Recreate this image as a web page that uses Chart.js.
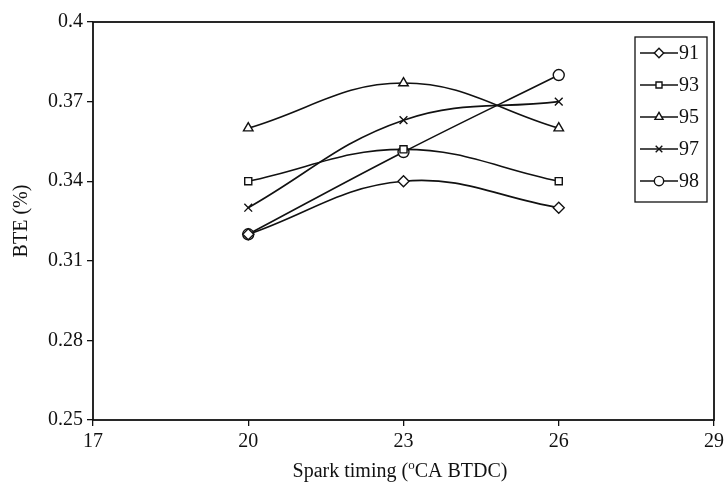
<!DOCTYPE html>
<html>
<head>
<meta charset="utf-8">
<script src="https://cdn.jsdelivr.net/npm/chart.js@4/dist/chart.umd.min.js"></script>
<style>
  html, body { margin:0; padding:0; background:#fff; }
  #wrap { width:724px; height:488px; }
</style>
</head>
<body>
<div id="wrap"><canvas id="bteChart" width="724" height="488"></canvas></div>
<script>
const timing = [20, 23, 26];
const fuels = ['91', '93', '95', '97', '98'];
const bte91 = [0.32, 0.34, 0.33];
const bte93 = [0.34, 0.352, 0.34];
const bte95 = [0.36, 0.377, 0.36];
const bte97 = [0.33, 0.363, 0.37];
const bte98 = [0.32, 0.351, 0.38];
const xTicks = [17, 20, 23, 26, 29];
const yTicks = [0.25, 0.28, 0.31, 0.34, 0.37, 0.4];

const serif = '"Liberation Serif", "Times New Roman", serif';
const styles = ['rectRot', 'rect', 'triangle', 'crossRot', 'circle'];
const series = [bte91, bte93, bte95, bte97, bte98];

const datasets = series.map((vals, i) => ({
  label: fuels[i],
  data: timing.map((t, j) => ({ x: t, y: vals[j] })),
  borderColor: '#111',
  borderWidth: 1.6,
  backgroundColor: '#fff',
  pointStyle: styles[i],
  pointRadius: styles[i] === 'rect' ? 5 : 5.5,
  pointBorderColor: '#111',
  pointBorderWidth: 1.4,
  pointBackgroundColor: '#fff',
  tension: 0.4,
  fill: false
}));

// frame, axis titles and the boxed legend
const framePlugin = {
  id: 'frame',
  afterDraw(chart){
    const {ctx, chartArea:a} = chart;
    ctx.save();
    ctx.strokeStyle = '#111';
    ctx.lineWidth = 1.8;
    ctx.strokeRect(a.left, a.top, a.right - a.left, a.bottom - a.top);

    // y title
    ctx.fillStyle = '#111';
    ctx.font = '20px ' + serif;
    ctx.textAlign = 'center';
    ctx.textBaseline = 'middle';
    ctx.save();
    ctx.translate(22, (a.top + a.bottom) / 2);
    ctx.rotate(-Math.PI / 2);
    ctx.fillText('BTE (%)', 0, 0);
    ctx.restore();

    // x title with superscript o
    const p1 = 'Spark timing (', sup = 'o', p2 = 'CA BTDC)';
    ctx.font = '20px ' + serif;
    const w1 = ctx.measureText(p1).width, w3 = ctx.measureText(p2).width;
    ctx.font = '13px ' + serif;
    const w2 = ctx.measureText(sup).width;
    const x0 = 400 - (w1 + w2 + w3) / 2;
    const base = 477;
    ctx.textAlign = 'left';
    ctx.textBaseline = 'alphabetic';
    ctx.font = '20px ' + serif;
    ctx.fillText(p1, x0, base);
    ctx.font = '13px ' + serif;
    ctx.fillText(sup, x0 + w1, base - 8);
    ctx.font = '20px ' + serif;
    ctx.fillText(p2, x0 + w1 + w2, base);

    // legend
    const lx = 635, ly = 37, lw = 72, lh = 165;
    ctx.fillStyle = '#fff';
    ctx.fillRect(lx, ly, lw, lh);
    ctx.lineWidth = 1.3;
    ctx.strokeRect(lx, ly, lw, lh);
    chart.data.datasets.forEach((ds, i) => {
      const y = ly + 16 + i * 32;
      ctx.strokeStyle = '#111';
      ctx.lineWidth = 1.6;
      ctx.beginPath();
      ctx.moveTo(lx + 5, y);
      ctx.lineTo(lx + 43, y);
      ctx.stroke();
      ctx.lineWidth = 1.4;
      ctx.fillStyle = '#fff';
      Chart.helpers.drawPoint(ctx, {
        pointStyle: ds.pointStyle, radius: ds.pointRadius * 0.85, rotation: 0, borderWidth: 1.4
      }, lx + 24, y);
      ctx.fillStyle = '#111';
      ctx.font = '20px ' + serif;
      ctx.textAlign = 'left';
      ctx.textBaseline = 'middle';
      ctx.fillText(ds.label, lx + 44, y + 1);
    });
    ctx.restore();
  }
};

new Chart(document.getElementById('bteChart'), {
  type: 'line',
  data: { datasets },
  options: {
    responsive: false,
    animation: false,
    layout: { padding: { top: 22, right: 10, left: 0, bottom: 0 } },
    plugins: { legend: { display: false }, tooltip: { enabled: false } },
    scales: {
      x: {
        type: 'linear',
        min: 17, max: 29,
        afterBuildTicks: s => { s.ticks = xTicks.map(v => ({ value: v })); },
        afterFit: s => { s.height = 68; s.paddingLeft = 0; s.paddingRight = 0; },
        grid: { drawOnChartArea: false, drawTicks: true, tickLength: 6, color: '#111', lineWidth: 1.3 },
        border: { display: false },
        ticks: { color: '#111', padding: 4, maxRotation: 0, font: { family: serif, size: 20 } }
      },
      y: {
        min: 0.25, max: 0.4,
        afterBuildTicks: s => { s.ticks = yTicks.map(v => ({ value: v })); },
        afterFit: s => { s.width = 93; s.paddingTop = 0; s.paddingBottom = 0; },
        grid: { drawOnChartArea: false, drawTicks: true, tickLength: 6, color: '#111', lineWidth: 1.3 },
        border: { display: false },
        ticks: {
          color: '#111', padding: 4, font: { family: serif, size: 20 },
          callback: v => String(+v.toFixed(2))
        }
      }
    }
  },
  plugins: [framePlugin]
});
</script>
</body>
</html>
